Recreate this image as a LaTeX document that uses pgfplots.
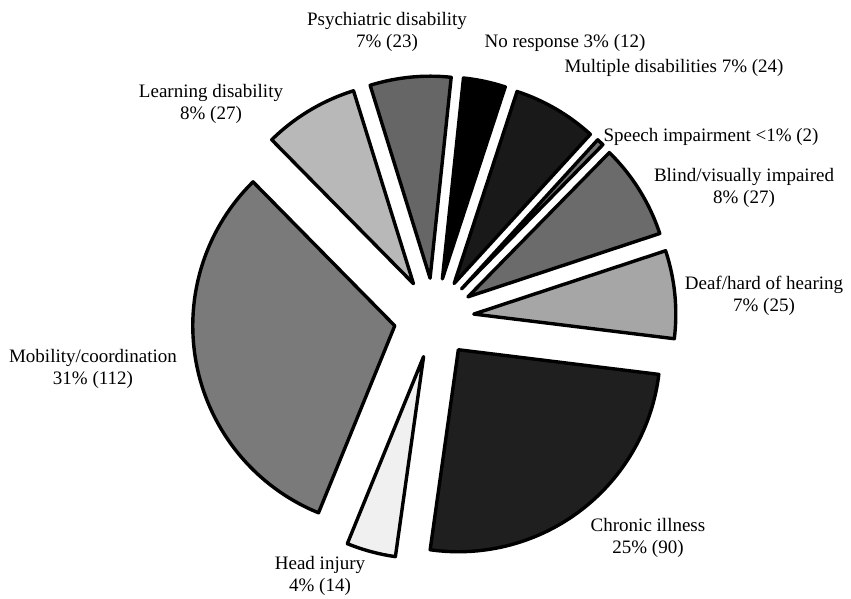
\documentclass[border=0pt]{standalone}
\usepackage{pgfplots}
\pgfplotsset{compat=1.18}
\usepackage{fontspec}
\setmainfont{Liberation Serif}
% counts: No response 12, Multiple 24, Speech 2, Blind 27, Deaf 25,
% Chronic 90, Head 14, Mobility 112, Learning 27, Psychiatric 23 (total 356)
% \slice{cumulative start}{count}{fill}
\newcommand{\slice}[3]{%
  \filldraw[fill=#3, draw=black, line width=1.7pt, line join=round]
   (axis cs:{434+40*cos(84-(#1+#2/2)/356*360)},{281+40*sin(84-(#1+#2/2)/356*360)})
   -- ++({84-#1/356*360}:101pt)
   arc[start angle={84-#1/356*360}, end angle={84-(#1+#2)/356*360}, radius=101pt]
   -- cycle;}
\tikzset{lab/.style={font=\fontsize{9.5pt}{11pt}\selectfont, align=center, inner sep=0pt}}
\begin{document}
\begin{tikzpicture}
\begin{axis}[
  x=0.5pt, y=0.5pt,
  xmin=0, xmax=851, ymin=0, ymax=599,
  hide axis, clip=false,
]
\path[draw=none] (axis cs:0,0) rectangle (axis cs:851,599);
\slice{0}{12}{black}
\slice{12}{24}{black!90}
\slice{36}{2}{black!55}
\slice{38}{27}{black!58}
\slice{65}{25}{black!35}
\slice{90}{90}{black!88}
\slice{180}{14}{black!6}
\slice{194}{112}{black!52}
\slice{306}{27}{black!28}
\slice{333}{23}{black!60}
\node[lab] at (axis cs:387,567) {Psychiatric disability\\7\% (23)};
\node[lab] at (axis cs:565,556) {No response 3\% (12)};
\node[lab] at (axis cs:674,531) {Multiple disabilities 7\% (24)};
\node[lab] at (axis cs:711,462) {Speech impairment <1\% (2)};
\node[lab] at (axis cs:744,411) {Blind/visually impaired\\8\% (27)};
\node[lab] at (axis cs:764,303) {Deaf/hard of hearing\\7\% (25)};
\node[lab] at (axis cs:93,230) {Mobility/coordination\\31\% (112)};
\node[lab] at (axis cs:648,61) {Chronic illness\\25\% (90)};
\node[lab] at (axis cs:320,23) {Head injury\\4\% (14)};
\node[lab] at (axis cs:211,495) {Learning disability\\8\% (27)};
\end{axis}
\end{tikzpicture}
\end{document}
